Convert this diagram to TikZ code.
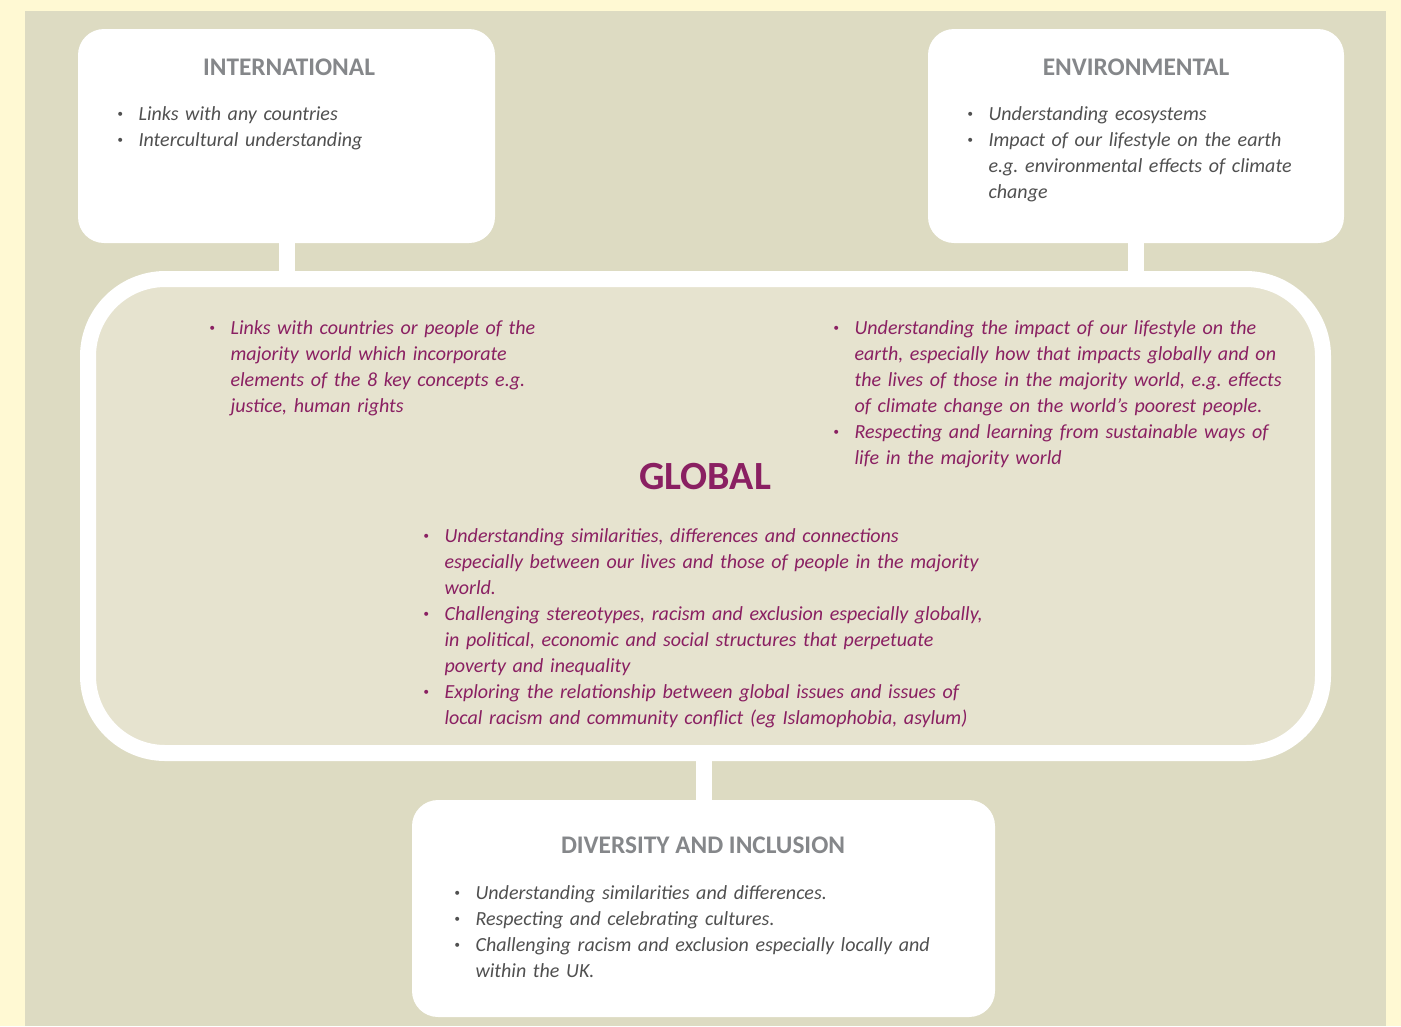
\documentclass[tikz,border=0pt]{standalone}
\usepackage{fontspec}
\setmainfont{Carlito}
\usepackage{tikz}
\usetikzlibrary{positioning}
\definecolor{PaleYellow}{HTML}{FFF9D3}
\definecolor{Khaki}{HTML}{DDDBC2}
\definecolor{LightKhaki}{HTML}{E6E3CF}
\definecolor{GlobalPurple}{HTML}{8A2062}
\definecolor{HeadGrey}{HTML}{85878A}
\definecolor{TextGrey}{HTML}{505050}
\hyphenpenalty=10000
\frenchspacing
\newcommand\bul{\hangindent=16pt\hangafter=1\makebox[16pt][l]{\raisebox{.25ex}{\fontsize{8.5}{8.5}\selectfont\textbullet}}}

\begin{document}
\begin{tikzpicture}[
      x=0.75pt, y=-0.75pt,
      every node/.style={align=center},
      card/.style={fill=white, rounded corners=19.5pt, inner sep=0pt},
      hub/.style={draw=white, line width=12pt, fill=LightKhaki, rounded corners=58pt,
        minimum width=926.25pt, minimum height=355.5pt, inner sep=0pt},
      link/.style={white, line width=12pt},
      head/.style={anchor=base, text=HeadGrey, font=\fontsize{19}{22}\selectfont\bfseries},
      items/.style={anchor=base west, align=left, text width=520pt, inner sep=0pt,
        font=\fontsize{15}{19.5}\selectfont\itshape}
    ]
      \useasboundingbox (0,0) rectangle (1401,1026);
      \fill[PaleYellow] (0,0) rectangle (1401,1026);
      \fill[Khaki] (25,11) rectangle (1386,1026);

      \node[card, minimum width=312.75pt, minimum height=160.5pt] (intl) at (286.5,136) {};
      \node[card, minimum width=312pt, minimum height=160.5pt] (env) at (1136,136) {};
      \node[hub] (global) at (705.5,516) {};
      \node[card, minimum width=437.25pt, minimum height=162.75pt] (div) at (703.5,908.5) {};

      \draw[link] (intl.south) -- (intl.south |- global.north);
      \draw[link] (env.south) -- (env.south |- global.north);
      \draw[link] (div.north) -- (div.north |- global.south);

      % Headings
      \node[head] (intlhead) at (289,75) {INTERNATIONAL};
      \node[head] (envhead) at (1136,75) {ENVIRONMENTAL};
      \node[head] (divhead) at (703,853) {DIVERSITY AND INCLUSION};
      \node[anchor=base, text=GlobalPurple, font=\fontsize{30}{32}\selectfont\bfseries] (globalhead) at (705,489) {GLOBAL};

      % Bullet lists
      \node[items, text=TextGrey] (intllist) at (117,120) {%
        \bul Links with any countries\par
        \bul Intercultural understanding\par};
      \node[items, text=TextGrey] (envlist) at (967,120) {%
        \bul Understanding ecosystems\par
        \bul Impact of our lifestyle on the earth\newline e.g. environmental effects of climate\newline change\par};
      \node[items, text=GlobalPurple] (leftlist) at (209,334) {%
        \bul Links with countries or people of the\newline majority world which incorporate\newline elements of the 8 key concepts e.g.\newline justice, human rights\par};
      \node[items, text=GlobalPurple] (rightlist) at (833,334) {%
        \bul Understanding the impact of our lifestyle on the\newline earth, especially how that impacts globally and on\newline the lives of those in the majority world, e.g. effects\newline of climate change on the world’s poorest people.\par
        \bul Respecting and learning from sustainable ways of\newline life in the majority world\par};
      \node[items, text=GlobalPurple] (midlist) at (423,542) {%
        \bul Understanding similarities, differences and connections\newline especially between our lives and those of people in the majority\newline world.\par
        \bul Challenging stereotypes, racism and exclusion especially globally,\newline in political, economic and social structures that perpetuate\newline poverty and inequality\par
        \bul Exploring the relationship between global issues and issues of\newline local racism and community conflict (eg Islamophobia, asylum)\par};
      \node[items, text=TextGrey] (divlist) at (454,899) {%
        \bul Understanding similarities and differences.\par
        \bul Respecting and celebrating cultures.\par
        \bul Challenging racism and exclusion especially locally and\newline within the UK.\par};
    \end{tikzpicture}
\end{document}
